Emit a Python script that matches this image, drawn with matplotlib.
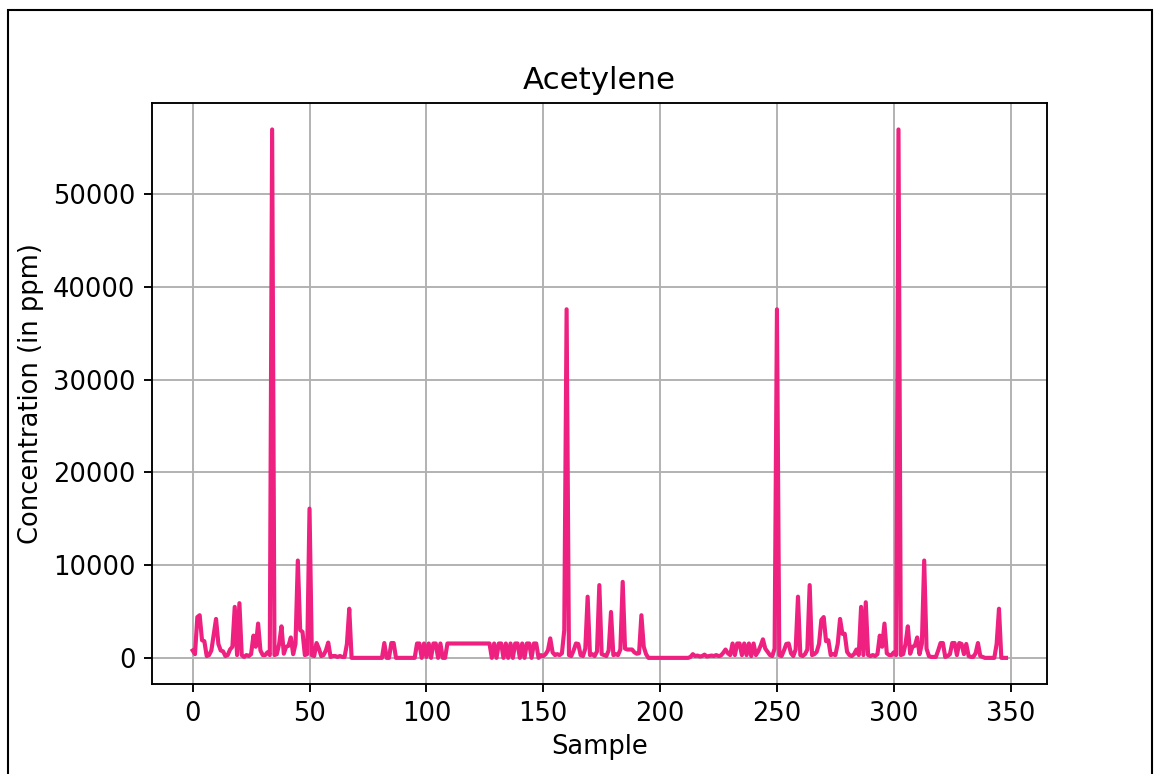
import matplotlib
matplotlib.use("Agg")
import matplotlib.pyplot as plt
from matplotlib.patches import Rectangle
import numpy as np

# acetylene concentration per sample (ppm)
acetylene = [
    800, 400, 4400, 4600, 1900, 1800, 200, 300, 800, 2500,
    4200, 1500, 800, 700, 200, 300, 900, 1200, 5500, 300,
    5900, 300, 100, 300, 200, 400, 2400, 1200, 3700, 800,
    300, 300, 600, 300, 57000, 300, 400, 1500, 3400, 450,
    1200, 1300, 2200, 400, 1500, 10500, 3000, 2800, 300, 400,
    16100, 300, 200, 1600, 1000, 200, 300, 800, 1650, 100,
    200, 200, 100, 200, 100, 100, 1500, 5300, 0, 0,
    0, 0, 0, 0, 0, 0, 0, 0, 0, 0,
    0, 0, 1600, 0, 0, 1600, 1600, 0, 0, 0,
    0, 0, 0, 0, 0, 0, 1550, 1550, 0, 1550,
    100, 1550, 0, 1550, 1550, 0, 1550, 0, 0, 1550,
    1550, 1550, 1550, 1550, 1550, 1550, 1550, 1550, 1550, 1550,
    1550, 1550, 1550, 1550, 1550, 1550, 1550, 1550, 0, 1550,
    0, 1550, 1550, 0, 1550, 0, 1550, 0, 1550, 1550,
    0, 1550, 0, 1550, 1550, 0, 1550, 1550, 0, 300,
    200, 400, 800, 2100, 600, 300, 400, 300, 500, 3000,
    37600, 300, 200, 800, 1550, 1500, 300, 200, 1000, 6600,
    300, 400, 200, 700, 7850, 400, 300, 200, 800, 4950,
    300, 400, 300, 900, 8200, 1000, 900, 900, 900, 600,
    450, 500, 4600, 1200, 400, 0, 0, 0, 0, 0,
    0, 0, 0, 0, 0, 0, 0, 0, 0, 0,
    0, 0, 0, 100, 400, 200, 250, 150, 200, 350,
    150, 200, 250, 200, 300, 200, 250, 540, 900, 500,
    300, 1550, 300, 1550, 1550, 300, 1550, 300, 1550, 200,
    1550, 300, 700, 1300, 2000, 1000, 650, 300, 200, 1000,
    37600, 300, 200, 800, 1500, 1550, 500, 200, 900, 6600,
    300, 200, 400, 900, 7850, 300, 400, 650, 1500, 4100,
    4400, 1800, 1900, 300, 400, 300, 1500, 4200, 2600, 2600,
    650, 300, 200, 400, 900, 300, 5500, 300, 6000, 300,
    200, 300, 200, 400, 2400, 1200, 3700, 500, 300, 300,
    600, 300, 57000, 300, 400, 1500, 3400, 450, 1200, 1300,
    2200, 400, 1500, 10500, 1000, 200, 100, 100, 100, 800,
    1600, 1600, 100, 200, 400, 1600, 1600, 300, 1600, 1500,
    400, 1500, 200, 100, 100, 500, 1600, 200, 100, 0,
    0, 0, 0, 0, 1500, 5300, 0, 0, 0,
]
samples = np.arange(len(acetylene))

S = 1.7   # line/tick scale relative to a default matplotlib figure
T = 1.85  # text scale

fig = plt.figure(figsize=(11.55, 7.74), dpi=100)
ax = fig.add_axes([0.1316, 0.1159, 0.7746, 0.7510])

ax.plot(samples, acetylene, color="#EE2080", lw=1.75 * S)
ax.grid(True, color="#b0b0b0", lw=0.8 * S)
ax.set_axisbelow(True)
ax.set_title("Acetylene", fontsize=12 * T, pad=6 * S)
ax.set_xlabel("Sample", fontsize=10 * T, labelpad=3 * S)
ax.set_ylabel("Concentration (in ppm)", fontsize=10 * T, labelpad=4 * S)
ax.tick_params(labelsize=10 * T, width=0.8 * S, length=3.5 * S, pad=3.5 * S)
for sp in ax.spines.values():
    sp.set_linewidth(0.8 * S)

# black frame around the picture, running off the bottom edge
fig.patches.append(Rectangle((8 / 1155, -20 / 774), 1144 / 1155, 784 / 774,
                             transform=fig.transFigure, fill=False,
                             ec="black", lw=1.5))

fig.savefig("out.png", dpi=100)
